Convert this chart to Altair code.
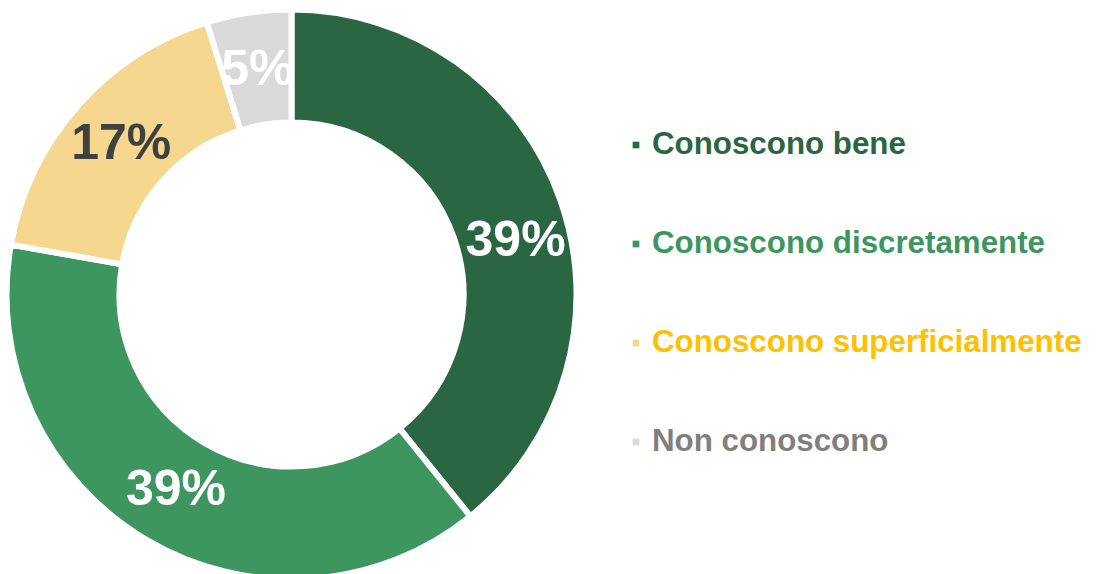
import altair as alt
import pandas as pd

categories = ["Conoscono bene", "Conoscono discretamente", "Conoscono superficialmente", "Non conoscono"]
values = [39.2, 38.6, 17.4, 4.8]
labels = ["39%", "39%", "17%", "5%"]

slice_colors = ["#2A6641", "#3D9660", "#F5D78F", "#D9D9D9"]
text_colors = ["#2A6641", "#3D9660", "#FFC000", "#7F7F7F"]

df = pd.DataFrame({
    "cat": categories,
    "value": values,
    "label": labels,
    "idx": list(range(len(categories))),
})

CX, CY = 283.5, 286.5
FONT = "Liberation Sans"

theta_scale = alt.Scale(domain=[0, 100])

arcs = alt.Chart(df).mark_arc(innerRadius=172, outerRadius=285, stroke="white", strokeWidth=6).encode(
    theta=alt.Theta("value:Q", stack=True, scale=theta_scale),
    order=alt.Order("idx:Q"),
    x=alt.value(CX),
    y=alt.value(CY),
    color=alt.Color("cat:N", scale=alt.Scale(domain=categories, range=slice_colors), legend=None),
)

label_color = alt.condition(
    alt.datum.cat == "Conoscono superficialmente", alt.value("#404040"), alt.value("white")
)

lab_base = alt.Chart(df).transform_window(
    cum="sum(value)", sort=[alt.SortField("idx")]
).transform_calculate(
    mid="datum.cum - datum.value / 2"
)

def label_layer(filt, dx=0, dy=0):
    return lab_base.transform_filter(filt).mark_text(
        radius=227, font=FONT, fontWeight="bold", fontSize=50,
        align="center", baseline="middle", dx=dx, dy=dy
    ).encode(
        theta=alt.Theta("mid:Q", stack=None, scale=theta_scale),
        x=alt.value(CX),
        y=alt.value(CY),
        text="label:N",
        color=label_color,
    )

txt_main = label_layer(alt.datum.idx > 0)
txt_first = label_layer(alt.datum.idx == 0, dx=10, dy=22)

ypos = alt.Y("cat:N", axis=None,
             scale=alt.Scale(type="point", domain=categories, range=[137, 434], padding=0))

leg_sq = alt.Chart(df).mark_square(size=45, opacity=1).encode(
    x=alt.value(628),
    y=ypos,
    color=alt.Color("cat:N", scale=alt.Scale(domain=categories, range=slice_colors), legend=None),
)

leg_txt = alt.Chart(df).transform_calculate(tcat="datum.cat").mark_text(
    font=FONT, fontWeight="bold", fontSize=31.3, align="left", baseline="middle"
).encode(
    x=alt.value(644),
    y=ypos,
    text="cat:N",
    color=alt.Color("tcat:N", scale=alt.Scale(domain=categories, range=text_colors), legend=None),
)

chart = alt.layer(arcs, txt_main, txt_first, leg_sq, leg_txt).resolve_scale(
    color="independent"
).properties(
    width=1080, height=566,
    autosize=alt.AutoSizeParams(type="none"),
    padding=0,
).configure_view(stroke=None)

chart.save("out.html", embed_options={"renderer": "svg", "actions": False})
